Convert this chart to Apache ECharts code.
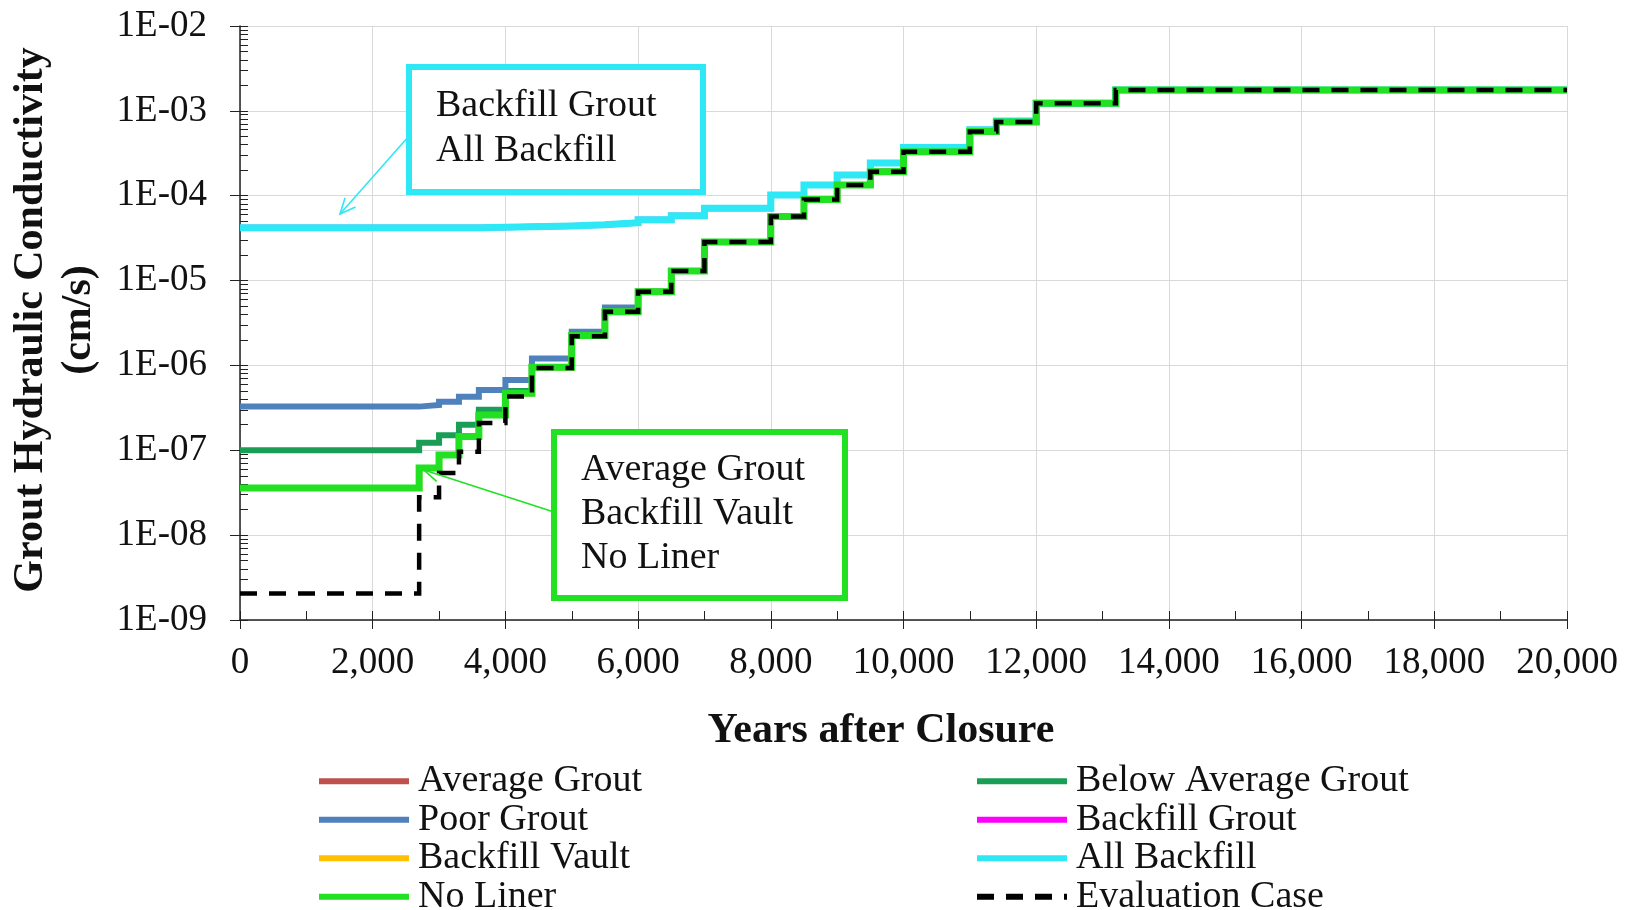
<!DOCTYPE html>
<html><head><meta charset="utf-8">
<script src="https://cdn.jsdelivr.net/npm/echarts@6/dist/echarts.min.js"></script>
<style>html,body{margin:0;padding:0;background:#fff}#c{width:1625px;height:910px}</style>
</head><body><div id="c"></div>
<script>
// Step change years (value holds from this year until the next one)
const years = [0, 2700, 3000, 3300, 3600, 4000, 4400, 5000, 5500, 6000, 6500, 7000, 8000, 8500, 9000, 9500, 10000, 11000, 11400, 12000, 13200, 20000];

// Grout hydraulic conductivity (cm/s) per case
const averageGrout      = [3.6e-8, 6.2e-8, 8.8e-8, 1.45e-7, 2.6e-7, 4.7e-7, 9.5e-7, 2.25e-6, 4.3e-6, 7.4e-6, 1.3e-5, 2.85e-5, 5.7e-5, 9.0e-5, 1.34e-4, 1.92e-4, 3.3e-4, 5.7e-4, 7.4e-4, 1.23e-3, 1.76e-3, 1.76e-3];
const belowAverageGrout = [1.0e-7, 1.23e-7, 1.5e-7, 2.0e-7, 3.0e-7, 5.0e-7, 9.5e-7, 2.25e-6, 4.3e-6, 7.4e-6, 1.3e-5, 2.85e-5, 5.7e-5, 9.0e-5, 1.34e-4, 1.92e-4, 3.3e-4, 5.7e-4, 7.4e-4, 1.23e-3, 1.76e-3, 1.76e-3];
const poorGrout         = [3.27e-7, 3.42e-7, 3.74e-7, 4.28e-7, 5.14e-7, 6.75e-7, 1.21e-6, 2.5e-6, 4.8e-6, 7.4e-6, 1.3e-5, 2.85e-5, 5.7e-5, 9.0e-5, 1.34e-4, 1.92e-4, 3.3e-4, 5.7e-4, 7.4e-4, 1.23e-3, 1.76e-3, 1.76e-3];
const backfillGrout     = [4.2e-5, 4.2e-5, 4.2e-5, 4.2e-5, 4.25e-5, 4.3e-5, 4.4e-5, 4.55e-5, 4.8e-5, 5.2e-5, 5.8e-5, 7.1e-5, 1.02e-4, 1.34e-4, 1.75e-4, 2.43e-4, 3.7e-4, 6.0e-4, 7.6e-4, 1.23e-3, 1.76e-3, 1.76e-3];
const backfillVault     = [3.6e-8, 6.2e-8, 8.8e-8, 1.45e-7, 2.6e-7, 4.7e-7, 9.5e-7, 2.25e-6, 4.3e-6, 7.4e-6, 1.3e-5, 2.85e-5, 5.7e-5, 9.0e-5, 1.34e-4, 1.92e-4, 3.3e-4, 5.7e-4, 7.4e-4, 1.23e-3, 1.76e-3, 1.76e-3];
const allBackfill       = [4.2e-5, 4.2e-5, 4.2e-5, 4.2e-5, 4.25e-5, 4.3e-5, 4.4e-5, 4.55e-5, 4.8e-5, 5.2e-5, 5.8e-5, 7.1e-5, 1.02e-4, 1.34e-4, 1.75e-4, 2.43e-4, 3.7e-4, 6.0e-4, 7.6e-4, 1.23e-3, 1.76e-3, 1.76e-3];
const noLiner           = [3.6e-8, 6.2e-8, 8.8e-8, 1.45e-7, 2.6e-7, 4.7e-7, 9.5e-7, 2.25e-6, 4.3e-6, 7.4e-6, 1.3e-5, 2.85e-5, 5.7e-5, 9.0e-5, 1.34e-4, 1.92e-4, 3.3e-4, 5.7e-4, 7.4e-4, 1.23e-3, 1.76e-3, 1.76e-3];
const evaluationCase    = [2.05e-9, 2.8e-8, 5.4e-8, 9.6e-8, 2.1e-7, 4.3e-7, 9.3e-7, 2.2e-6, 4.3e-6, 7.4e-6, 1.3e-5, 2.85e-5, 5.7e-5, 9.0e-5, 1.34e-4, 1.92e-4, 3.3e-4, 5.7e-4, 7.4e-4, 1.23e-3, 1.76e-3, 1.76e-3];

const legendLeft  = ['Average Grout', 'Poor Grout', 'Backfill Vault', 'No Liner'];
const legendRight = ['Below Average Grout', 'Backfill Grout', 'All Backfill', 'Evaluation Case'];
const box1Lines = ['Backfill Grout', 'All Backfill'];
const box2Lines = ['Average Grout', 'Backfill Vault', 'No Liner'];

const SERIF = '"Liberation Serif","Times New Roman",serif';

function pairs(vals) { return years.map((x, i) => [x, vals[i]]); }
function sLine(name, vals, color, width, dash) {
  return {
    name, type: 'line', step: 'end', data: pairs(vals), symbol: 'none',
    xAxisIndex: 0, yAxisIndex: 0, silent: true, animation: false,
    lineStyle: { color, width, type: dash || 'solid', cap: 'butt', join: 'miter' },
    itemStyle: { color }
  };
}

function arrow(x1, y1, x2, y2, color) {
  const ang = Math.atan2(y2 - y1, x2 - x1), L = 17, a = 0.42;
  return [
    { type: 'line', z: 20, shape: { x1, y1, x2, y2 }, style: { stroke: color, lineWidth: 1.6 } },
    { type: 'polyline', z: 20, shape: { points: [
      [x2 - L * Math.cos(ang - a), y2 - L * Math.sin(ang - a)], [x2, y2],
      [x2 - L * Math.cos(ang + a), y2 - L * Math.sin(ang + a)]] },
      style: { stroke: color, lineWidth: 1.6, fill: null } }
  ];
}

const chart = echarts.init(document.getElementById('c'), null, { renderer: 'canvas' });

const graphics = [];
// Box 1
graphics.push({ type: 'rect', z: 20, shape: { x: 409, y: 67, width: 294, height: 125 },
  style: { fill: '#fff', stroke: '#2ee8f5', lineWidth: 6 } });
box1Lines.forEach((t, i) => graphics.push({ type: 'text', z: 21, x: 436, y: 106 + i * 45,
  style: { text: t, font: '38px ' + SERIF, fill: '#111', verticalAlign: 'middle' } }));
graphics.push(...arrow(409, 136, 340, 214, '#2ee8f5'));
// Box 2
graphics.push({ type: 'rect', z: 20, shape: { x: 554, y: 432, width: 291, height: 166 },
  style: { fill: '#fff', stroke: '#22e022', lineWidth: 6 } });
box2Lines.forEach((t, i) => graphics.push({ type: 'text', z: 21, x: 581, y: 470 + i * 44,
  style: { text: t, font: '38px ' + SERIF, fill: '#111', verticalAlign: 'middle' } }));
graphics.push(...arrow(554, 512, 424, 470, '#22e022'));
// Axis titles
graphics.push({ type: 'text', x: 31, y: 320, rotation: Math.PI / 2,
  style: { text: 'Grout Hydraulic Conductivity', font: 'bold 42px ' + SERIF, fill: '#111', align: 'center', verticalAlign: 'middle' } });
graphics.push({ type: 'text', x: 79, y: 320, rotation: Math.PI / 2,
  style: { text: '(cm/s)', font: 'bold 42px ' + SERIF, fill: '#111', align: 'center', verticalAlign: 'middle' } });
graphics.push({ type: 'text', x: 881, y: 731,
  style: { text: 'Years after Closure', font: 'bold 42px ' + SERIF, fill: '#111', align: 'center', verticalAlign: 'middle' } });

function legendCfg(left, data) {
  return {
    left, top: 762, height: 300, padding: 0, data,
    orient: 'vertical', itemWidth: 90, itemHeight: 16, itemGap: 0, selectedMode: false,
    itemStyle: { opacity: 0 },
    lineStyle: { width: 6 },
    textStyle: { fontFamily: SERIF, fontSize: 38, color: '#111', lineHeight: 38.5, padding: [0, 0, 0, 4] }
  };
}

chart.setOption({
  animation: false,
  backgroundColor: '#fff',
  grid: { left: 240, right: 58, top: 26, bottom: 290, containLabel: false },
  legend: [legendCfg(316, legendLeft), legendCfg(974, legendRight)],
  xAxis: [
    { type: 'value', min: 0, max: 20000, interval: 2000, position: 'bottom',
      axisLine: { show: true, lineStyle: { color: '#222', width: 1.5 } },
      axisTick: { show: true, inside: false, length: 9, lineStyle: { color: '#222' } },
      axisLabel: { fontFamily: SERIF, fontSize: 37, color: '#111', margin: 25,
        formatter: v => v.toLocaleString('en-US') },
      splitLine: { show: true, lineStyle: { color: '#d9d9d9', width: 1 } } },
    { type: 'value', min: 0, max: 20000, interval: 2000, position: 'bottom',
      axisLine: { show: false }, axisLabel: { show: false }, splitLine: { show: false },
      axisTick: { show: true, inside: true, length: 9, lineStyle: { color: '#222' } },
      minorTick: { show: true, splitNumber: 2, length: 9, lineStyle: { color: '#222' } } }
  ],
  yAxis: [
    { type: 'log', logBase: 10, min: 1e-9, max: 1e-2, splitNumber: 7, position: 'left',
      axisLine: { show: true, lineStyle: { color: '#222', width: 1.5 } },
      axisTick: { show: true, inside: false, length: 10, lineStyle: { color: '#222' } },
      axisLabel: { fontFamily: SERIF, fontSize: 37, color: '#111', margin: 33,
        formatter: v => { const e = Math.round(Math.log10(v)); return '1E' + (e < 0 ? '-' : '+') + String(Math.abs(e)).padStart(2, '0'); } },
      splitLine: { show: true, lineStyle: { color: '#d9d9d9', width: 1 } } },
    { type: 'log', logBase: 10, min: 1e-9, max: 1e-2, splitNumber: 7, position: 'left',
      axisLine: { show: false }, axisLabel: { show: false }, splitLine: { show: false },
      axisTick: { show: true, inside: true, length: 8, lineStyle: { color: '#222' } },
      minorTick: { show: true, splitNumber: 9, length: 8, lineStyle: { color: '#222' } } }
  ],
  graphic: graphics,
  series: [
    sLine('Average Grout', averageGrout, '#c0504d', 6),
    sLine('Below Average Grout', belowAverageGrout, '#1a9e55', 6),
    sLine('Poor Grout', poorGrout, '#4f81bd', 6),
    sLine('Backfill Grout', backfillGrout, '#ff00ff', 6),
    sLine('Backfill Vault', backfillVault, '#ffc000', 6),
    sLine('All Backfill', allBackfill, '#2ee8f5', 7),
    sLine('No Liner', noLiner, '#22e022', 7),
    sLine('Evaluation Case', evaluationCase, '#000000', 4.5, [17, 12])
  ]
});
</script></body></html>
